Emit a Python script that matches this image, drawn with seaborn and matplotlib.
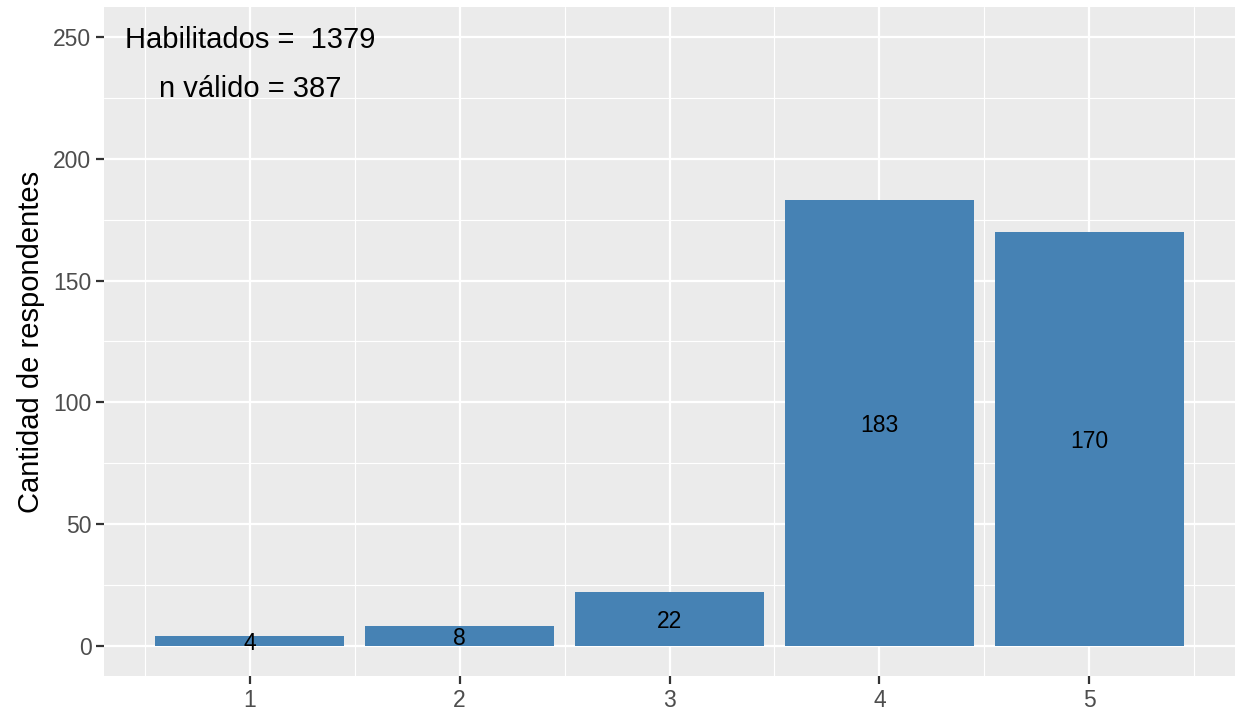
import numpy as np
import pandas as pd
import seaborn as sns
import matplotlib.pyplot as plt
from matplotlib.ticker import MultipleLocator

# datos
categorias = [1, 2, 3, 4, 5]
respondentes = [4, 8, 22, 183, 170]
habilitados = 1379
n_valido = 387

sns.set_theme(style="darkgrid")
plt.rcParams["font.family"] = ["Liberation Sans", "DejaVu Sans"]

df = pd.DataFrame({"cat": categorias, "n": respondentes})

fig = plt.figure(figsize=(12.38, 7.11), dpi=100)
ax = fig.add_axes([0.084, 0.0492, 0.9136, 0.9410])
ax.set_facecolor("#EBEBEB")

sns.barplot(data=df, x="cat", y="n", native_scale=True, width=0.9,
            color="#4682B4", saturation=1, ax=ax, zorder=3, linewidth=0)

for c, v in zip(categorias, respondentes):
    ax.text(c, v / 2, str(v), ha="center", va="center_baseline", fontsize=16.5,
            color="black", zorder=4)

ax.text(1, 250, f"Habilitados =  {habilitados}", ha="center", va="center_baseline",
        fontsize=21, color="black")
ax.text(1, 230, f"n válido = {n_valido}", ha="center", va="center_baseline",
        fontsize=21, color="black")

ax.set_xlim(0.305, 5.695)
ax.set_ylim(-12.5, 262.5)
ax.xaxis.set_major_locator(MultipleLocator(1))
ax.xaxis.set_minor_locator(MultipleLocator(0.5))
ax.yaxis.set_major_locator(MultipleLocator(50))
ax.yaxis.set_minor_locator(MultipleLocator(25))
ax.grid(which="major", color="white", linewidth=1.6, zorder=0)
ax.grid(which="minor", color="white", linewidth=0.8, zorder=0)
ax.set_axisbelow(True)
for s in ax.spines.values():
    s.set_visible(False)

ax.tick_params(axis="both", which="major", bottom=True, left=True,
               length=6, width=1.6, color="#333333",
               labelcolor="#4D4D4D", labelsize=16.5, pad=3)
ax.tick_params(axis="both", which="minor", length=0)
ax.set_xlabel("")
ax.set_ylabel("Cantidad de respondentes", fontsize=21, color="black", labelpad=6)

fig.savefig("out.png", dpi=100)
